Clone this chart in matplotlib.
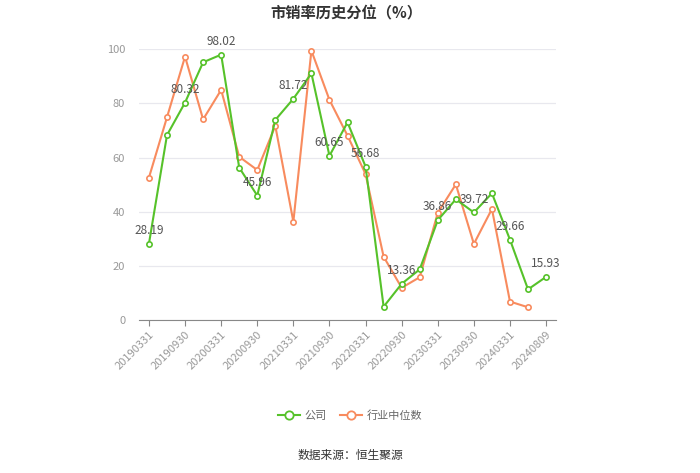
import numpy as np
import matplotlib.pyplot as plt
from matplotlib.lines import Line2D

plt.rcParams['font.family'] = ['Noto Sans CJK SC', 'DejaVu Sans']

dates = ['20190331', '20190630', '20190930', '20191231',
         '20200331', '20200630', '20200930', '20201231',
         '20210331', '20210630', '20210930', '20211231',
         '20220331', '20220630', '20220930', '20221231',
         '20230331', '20230630', '20230930', '20231231',
         '20240331', '20240630', '20240809']
company = [28.19, 68.3, 80.32, 95.2, 98.02, 56.3, 45.96, 73.9, 81.72, 91.1,
           60.65, 73.0, 56.68, 4.9, 13.36, 18.7, 36.86, 44.6, 39.72, 46.8,
           29.66, 11.3, 15.93]
industry = [52.6, 74.9, 97.3, 74.1, 85.0, 60.3, 55.4, 71.7, 36.3, 99.5,
            81.3, 68.1, 53.9, 23.4, 11.9, 15.8, 39.6, 50.1, 28.1, 41.0,
            6.8, 4.7]

green = '#56c22a'
orange = '#f88b5e'

fig = plt.figure(figsize=(7, 4.73), dpi=100)
ax = fig.add_axes([0.1986, 0.3235, 0.5957, 0.5723])

x = np.arange(len(dates))
ax.plot(x[:len(industry)], industry, color=orange, lw=1.5, marker='o', ms=3.8,
        mfc='white', mec=orange, mew=1.2, clip_on=False, zorder=3)
ax.plot(x, company, color=green, lw=1.5, marker='o', ms=3.8,
        mfc='white', mec=green, mew=1.2, clip_on=False, zorder=4)

for i in range(0, len(company), 2):
    ax.annotate(f'{company[i]:.2f}', (x[i], company[i]), xytext=(0, 5),
                textcoords='offset points', ha='center', va='bottom',
                fontsize=8.5, color='#555555', zorder=5)

ax.set_xlim(-0.55, len(dates) - 0.45)
ax.set_ylim(0, 100)
ax.set_yticks(np.arange(0, 101, 20))
ax.grid(axis='y', color='#e8e8ee', lw=0.9)
ax.set_axisbelow(True)
for s in ['top', 'right', 'left']:
    ax.spines[s].set_visible(False)
ax.spines['bottom'].set_color('#888888')
ax.tick_params(axis='y', length=0, labelsize=8, labelcolor='#999999', pad=10)

ticks = x[::2]
ax.set_xticks(ticks)
ax.set_xticklabels([dates[i] for i in ticks], rotation=45, ha='right',
                   rotation_mode='anchor', fontsize=8, color='#999999')
ax.tick_params(axis='x', length=4, color='#888888', pad=3)

fig.text(0.495, 0.972, '市销率历史分位（%）', ha='center', va='center',
         fontsize=11, fontweight='bold', color='#333333')

handles = [Line2D([], [], color=green, lw=1.5, marker='o', ms=6, mfc='white', mec=green, mew=1.3),
           Line2D([], [], color=orange, lw=1.5, marker='o', ms=6, mfc='white', mec=orange, mew=1.3)]
leg = fig.legend(handles, ['公司', '行业中位数'], loc='center', bbox_to_anchor=(0.5, 0.122),
                 ncol=2, frameon=False, fontsize=8, handlelength=2.0, columnspacing=1.2,
                 handletextpad=0.4)
for t in leg.get_texts():
    t.set_color('#666666')

fig.text(0.5, 0.036, '数据来源：恒生聚源', ha='center', va='center',
         fontsize=8.5, color='#333333')

fig.savefig('out.png', dpi=100, facecolor='white')
